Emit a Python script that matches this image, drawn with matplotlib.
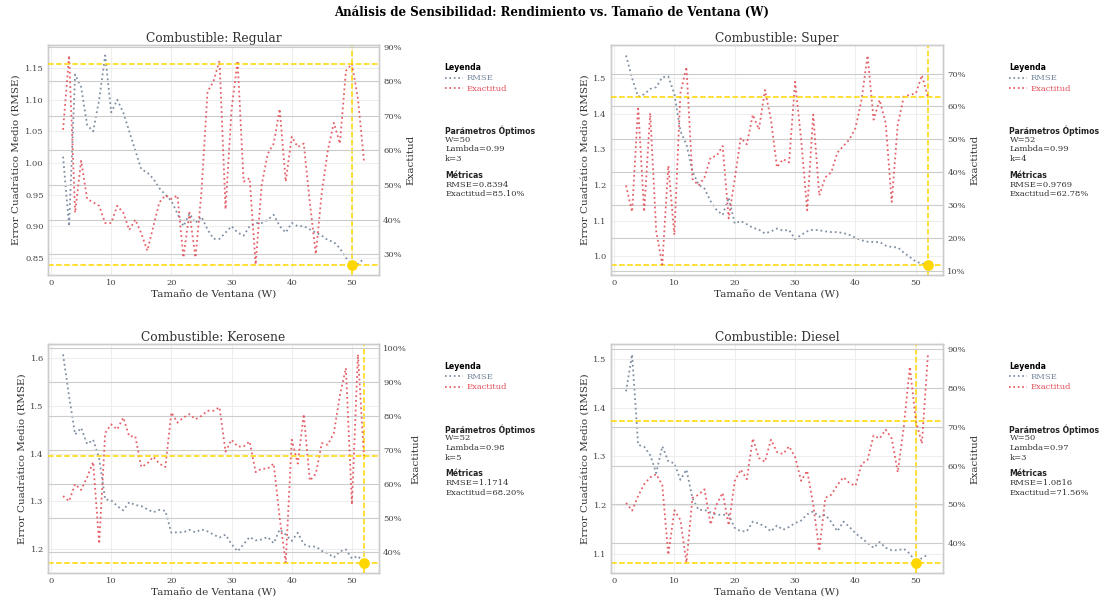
import numpy as np
import matplotlib
matplotlib.use("Agg")
import matplotlib.pyplot as plt
from matplotlib.lines import Line2D
from matplotlib.ticker import PercentFormatter

# ---------------- data ----------------
windows = list(range(2, 53))

regular_rmse = [1.01, 0.90, 1.14, 1.12, 1.06, 1.05, 1.10, 1.17, 1.08, 1.10,
                1.08, 1.05, 1.02, 0.99, 0.985, 0.975, 0.96, 0.95, 0.94, 0.92,
                0.90, 0.92, 0.905, 0.915, 0.895, 0.88, 0.88, 0.89, 0.90, 0.89,
                0.885, 0.90, 0.905, 0.905, 0.91, 0.918, 0.90, 0.89, 0.905, 0.90,
                0.90, 0.895, 0.89, 0.885, 0.878, 0.875, 0.865, 0.85, 0.8394, 0.84, 0.849]
regular_acc = [66, 87.5, 42, 57, 46, 45, 44, 39, 39, 44,
               42, 37, 40, 36, 31, 38, 45, 47, 46, 47,
               29, 42, 29, 48, 77, 80, 86, 43, 72, 86,
               51, 52, 27, 50, 59, 62, 72, 51, 64, 61,
               62, 45, 30, 48, 60, 68, 62, 83, 85.10, 75, 57]

super_rmse = [1.564, 1.50, 1.448, 1.455, 1.47, 1.475, 1.503, 1.505, 1.456, 1.352,
              1.314, 1.239, 1.201, 1.19, 1.155, 1.13, 1.116, 1.165, 1.092, 1.099,
              1.09, 1.08, 1.075, 1.064, 1.07, 1.078, 1.072, 1.074, 1.048, 1.06,
              1.07, 1.075, 1.073, 1.07, 1.068, 1.068, 1.065, 1.06, 1.052, 1.045,
              1.041, 1.04, 1.04, 1.03, 1.026, 1.025, 1.01, 0.998, 0.985, 0.98, 0.9769]
super_acc = [36, 28, 60, 28, 58, 22, 12, 42, 21, 64,
             72, 38, 36, 38.5, 44.5, 45, 48, 26, 38, 50.5,
             48.5, 57.5, 53, 65, 56, 41.5, 44, 43, 67.5, 50,
             28.5, 57.5, 33, 38.5, 40, 46, 48, 50, 53.5, 62,
             75.5, 56, 62, 55, 31, 54.5, 63, 63.5, 64, 69.5, 62.78]

kerosene_rmse = [1.608, 1.52, 1.44, 1.454, 1.42, 1.429, 1.39, 1.304, 1.302, 1.29,
                 1.281, 1.298, 1.292, 1.29, 1.283, 1.277, 1.282, 1.28, 1.234, 1.235,
                 1.235, 1.24, 1.235, 1.241, 1.237, 1.23, 1.224, 1.23, 1.21, 1.195,
                 1.21, 1.225, 1.218, 1.22, 1.225, 1.212, 1.241, 1.23, 1.217, 1.234,
                 1.21, 1.205, 1.205, 1.196, 1.191, 1.182, 1.195, 1.199, 1.18, 1.185, 1.1714]
kerosene_acc = [56.5, 55, 60, 58.3, 62, 66.5, 42.5, 75, 77.5, 76,
                79.5, 74, 74, 65, 66, 68, 66, 65, 81, 78,
                79.5, 80.5, 79, 80, 81.5, 81.5, 82.5, 69.5, 73, 71,
                71, 72.5, 63.5, 64.5, 64.5, 66, 50, 37, 73, 66,
                80.5, 61, 63, 72, 71.5, 75, 86, 94, 54, 98, 68.20]

diesel_rmse = [1.434, 1.51, 1.324, 1.32, 1.303, 1.266, 1.321, 1.29, 1.286, 1.252,
               1.273, 1.214, 1.19, 1.19, 1.185, 1.18, 1.18, 1.18, 1.153, 1.146,
               1.146, 1.166, 1.162, 1.156, 1.146, 1.158, 1.149, 1.155, 1.163, 1.168,
               1.181, 1.187, 1.176, 1.18, 1.165, 1.146, 1.166, 1.155, 1.142, 1.132,
               1.122, 1.112, 1.124, 1.112, 1.107, 1.107, 1.11, 1.10, 1.0816, 1.091, 1.098]
diesel_acc = [50.4, 48.4, 52.2, 55.2, 57, 57.8, 55, 37, 48.5, 46,
              35, 51.7, 52.5, 53.9, 44.8, 50, 53, 44.6, 56, 59,
              56.5, 67, 62, 61, 66.7, 63.5, 63, 65, 62.2, 56.1,
              58.7, 50, 38, 51.7, 52.5, 55, 57, 55.5, 54.8, 60.4,
              61.5, 67.8, 67, 69.3, 67, 58.3, 70, 85.5, 71.56, 65.7, 88.7]

fuels = ["Regular", "Super", "Kerosene", "Diesel"]
rmse_series = [regular_rmse, super_rmse, kerosene_rmse, diesel_rmse]
acc_series = [regular_acc, super_acc, kerosene_acc, diesel_acc]
best_w = [50, 52, 52, 50]
best_lambda = [0.99, 0.99, 0.98, 0.97]
best_k = [3, 4, 5, 3]
best_rmse = [0.8394, 0.9769, 1.1714, 1.0816]
best_acc = [85.10, 62.78, 68.20, 71.56]

# ---------------- style ----------------
plt.rcParams['font.family'] = ['DejaVu Serif']
RMSE_COLOR = '#72849a'
ACC_COLOR = '#e2505a'
GOLD = '#FFD700'
GRID_COLOR = '#cccccc'
TICK_COLOR = '#444444'

fig = plt.figure(figsize=(11.04, 6.05), dpi=100)
fig.patch.set_facecolor('white')

rects = [
    (0.0435, 0.5455, 0.2998, 0.3801),
    (0.5534, 0.5455, 0.3008, 0.3801),
    (0.0435, 0.0529, 0.2998, 0.3785),
    (0.5534, 0.0529, 0.3008, 0.3785),
]

fig.suptitle("Análisis de Sensibilidad: Rendimiento vs. Tamaño de Ventana (W)",
             fontsize=8.5, fontweight='bold', y=0.99)

for i, fuel in enumerate(fuels):
    ax = fig.add_axes(rects[i])
    ax2 = ax.twinx()

    ax.plot(windows, rmse_series[i], linestyle=':', color=RMSE_COLOR, lw=1.3, alpha=0.9)
    ax2.plot(windows, acc_series[i], linestyle=':', color=ACC_COLOR, lw=1.3, alpha=0.9)

    ax.axhline(best_rmse[i], color=GOLD, linestyle='--', lw=1.1, zorder=5)
    ax.axvline(best_w[i], color=GOLD, linestyle='--', lw=1.1, zorder=5)
    ax2.axhline(best_acc[i], color=GOLD, linestyle='--', lw=1.1, zorder=5)
    ax2.scatter([best_w[i]], [best_rmse[i]], color=GOLD, s=45, zorder=10,
                transform=ax.transData, clip_on=False)

    ax.set_title(f"Combustible: {fuel}", fontsize=8.8, color='#333333', pad=2.5)
    ax.set_xlabel("Tamaño de Ventana (W)", fontsize=7.5, color='#333333', labelpad=2)
    ax.set_ylabel("Error Cuadrático Medio (RMSE)", fontsize=7.5, color='#333333', labelpad=3)
    ax2.set_ylabel("Exactitud", fontsize=7.5, color='#333333', labelpad=3)

    ax2.yaxis.set_major_formatter(PercentFormatter(decimals=0))

    ax.grid(True, linestyle='-', color='#eeeeee', lw=0.8)
    ax2.grid(True, axis='y', linestyle='-', color=GRID_COLOR, lw=0.8)
    ax.set_axisbelow(True)

    for a in (ax, ax2):
        a.tick_params(labelsize=6, colors=TICK_COLOR, length=0, pad=3)
        for sp in a.spines.values():
            sp.set_color(GRID_COLOR)
            sp.set_linewidth(1.0)
    ax.set_xticks([0, 10, 20, 30, 40, 50])

    # legend block
    handles = [Line2D([0], [0], linestyle=':', color=RMSE_COLOR, lw=1.2),
               Line2D([0], [0], linestyle=':', color=ACC_COLOR, lw=1.2)]
    leg = ax2.legend(handles, ["RMSE", "Exactitud"], loc='upper left',
                     bbox_to_anchor=(1.198, 0.92), frameon=False, fontsize=6,
                     title="Leyenda", borderpad=0, borderaxespad=0,
                     handlelength=2.2, handletextpad=0.4, labelspacing=0.25,
                     title_fontproperties={'family': 'DejaVu Sans', 'weight': 'bold', 'size': 5.6})
    leg._legend_box.align = "left"
    for txt, c in zip(leg.get_texts(), [RMSE_COLOR, ACC_COLOR]):
        txt.set_color(c)

    ax2.text(1.2, 0.648, "Parámetros Óptimos", transform=ax.transAxes,
             fontsize=5.6, fontweight='bold', family='DejaVu Sans', va='top', color='#222222')
    ax2.text(1.2, 0.606,
             f"W={best_w[i]}\nLambda={best_lambda[i]:.2f}\nk={best_k[i]}",
             transform=ax.transAxes, fontsize=6, va='top', color='#333333', linespacing=1.28)
    ax2.text(1.2, 0.452, "Métricas", transform=ax.transAxes,
             fontsize=5.6, fontweight='bold', family='DejaVu Sans', va='top', color='#222222')
    ax2.text(1.2, 0.41,
             f"RMSE={best_rmse[i]:.4f}\nExactitud={best_acc[i]:.2f}%",
             transform=ax.transAxes, fontsize=6, va='top', color='#333333', linespacing=1.28)

fig.savefig("out.png", dpi=100, facecolor='white')
